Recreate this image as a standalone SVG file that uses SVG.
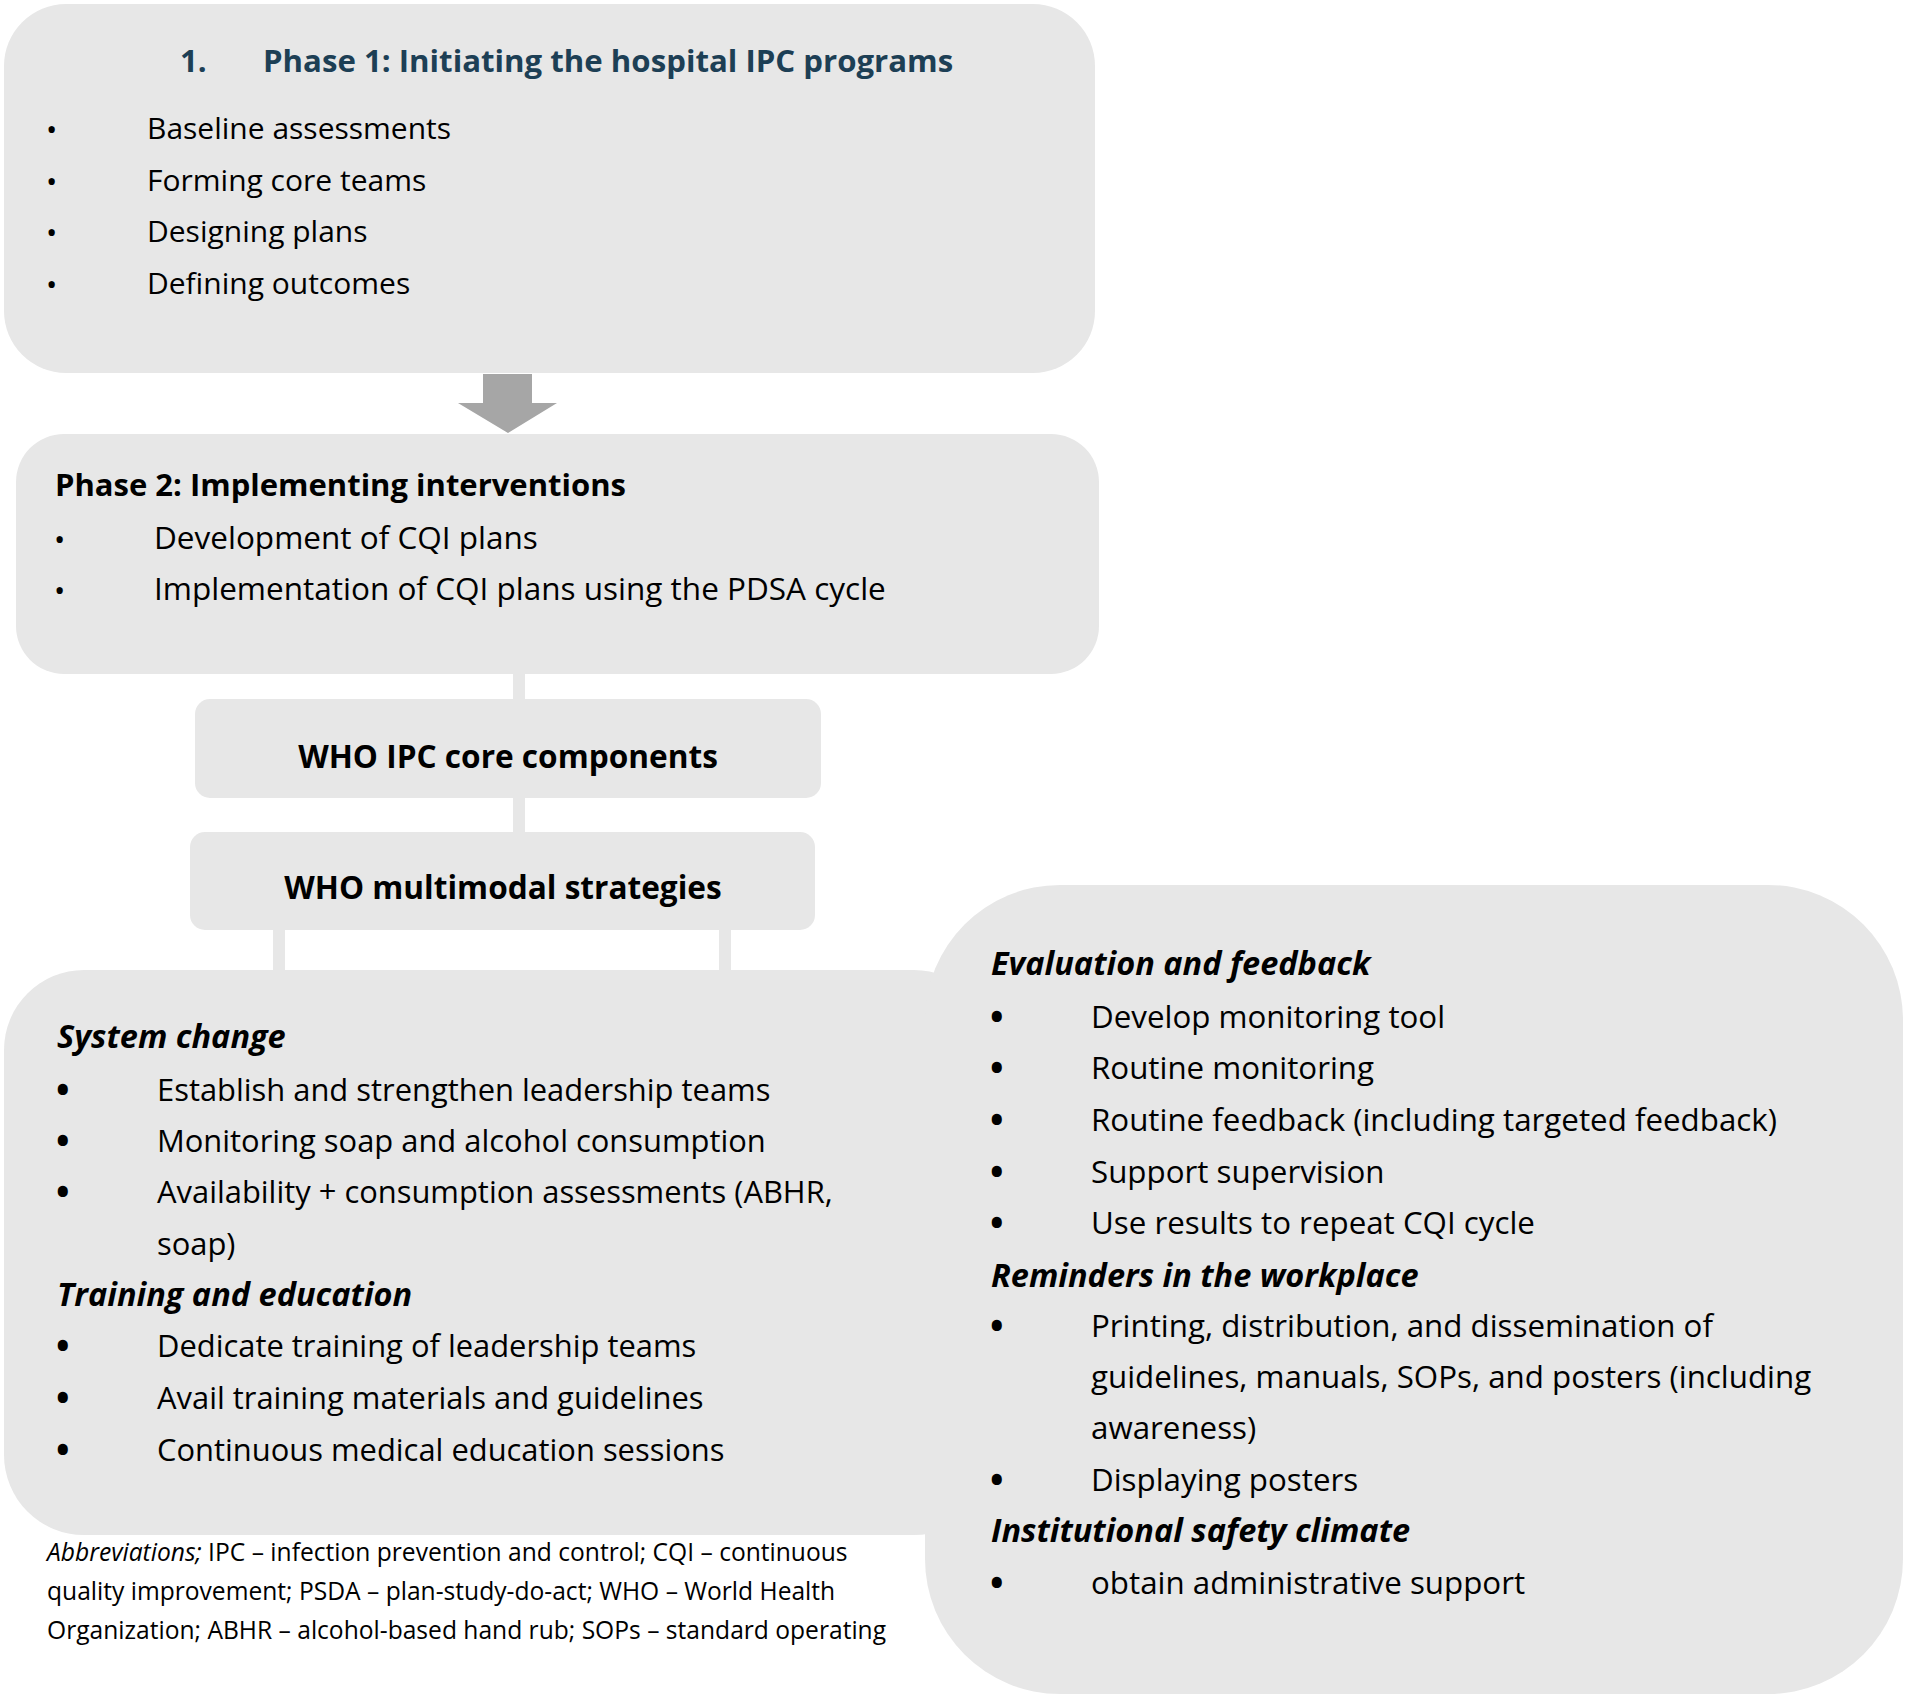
<svg xmlns="http://www.w3.org/2000/svg" width="1907" height="1698" viewBox="0 0 1907 1698">
<style>
  .box { fill: #e7e7e7; }
  .conn { fill: #e7e7e7; }
  .arrow { fill: #a6a6a6; }
  text { font-family: "Open Sans", "Liberation Sans", sans-serif; fill: #000; }
  .t1 { font-size: 30px; }
  .t2 { font-size: 31.5px; }
  .t { font-size: 31.3px; }
  .tl { font-size: 30.9px; }
  .b { font-size: 31px; font-weight: bold; }
  .bw { font-size: 31.6px; font-weight: bold; }
  .bi { font-size: 32.5px; font-weight: bold; font-style: italic; }
  .title { font-size: 31.2px; font-weight: bold; fill: #1d3f55; }
  .bul { font-size: 30px; }
  .bul2 { font-size: 36px; font-weight: bold; }
  .ab { font-size: 24.6px; }
  .abi { font-style: italic; }
</style>
<rect width="1907" height="1698" fill="#ffffff"/>
<g id="connectors">
  <rect class="conn" x="513" y="670" width="12" height="33"/>
  <rect class="conn" x="513" y="794" width="12" height="42"/>
  <rect class="conn" x="273" y="926" width="12" height="48"/>
  <rect class="conn" x="719" y="926" width="12" height="48"/>
  <polygon class="arrow" points="483,374 532,374 532,403 557,403 508,433 458,403 483,403"/>
</g>
<g id="phase1">
  <rect class="box" x="4" y="4" width="1091" height="369" rx="62"/>
  <text class="title" x="180" y="72">1.</text>
  <text class="title" x="263" y="72">Phase 1: Initiating the hospital IPC programs</text>
  <text class="bul" x="46" y="140">•</text><text class="t1" x="147" y="139">Baseline assessments</text>
  <text class="bul" x="46" y="192">•</text><text class="t1" x="147" y="191">Forming core teams</text>
  <text class="bul" x="46" y="243">•</text><text class="t1" x="147" y="242">Designing plans</text>
  <text class="bul" x="46" y="295">•</text><text class="t1" x="147" y="294">Defining outcomes</text>
</g>
<g id="phase2">
  <rect class="box" x="16" y="434" width="1083" height="240" rx="48"/>
  <text class="b" x="55" y="496">Phase 2: Implementing interventions</text>
  <text class="bul" x="54" y="550">•</text><text class="t2" x="154" y="549">Development of CQI plans</text>
  <text class="bul" x="54" y="601">•</text><text class="t2" x="154" y="600">Implementation of CQI plans using the PDSA cycle</text>
</g>
<g id="who-ipc">
  <rect class="box" x="195" y="699" width="626" height="99" rx="15"/>
  <text class="bw" x="508" y="768" text-anchor="middle">WHO IPC core components</text>
</g>
<g id="who-multimodal">
  <rect class="box" x="190" y="832" width="625" height="98" rx="15"/>
  <text class="bw" x="503" y="899" text-anchor="middle">WHO multimodal strategies</text>
</g>
<g id="left-box">
  <rect class="box" x="4" y="970" width="990" height="565" rx="80"/>
  <text class="bi" x="57" y="1048">System change</text>
  <text class="bul2" x="56" y="1103">•</text><text class="tl" x="157" y="1101">Establish and strengthen leadership teams</text>
  <text class="bul2" x="56" y="1154">•</text><text class="tl" x="157" y="1152">Monitoring soap and alcohol consumption</text>
  <text class="bul2" x="56" y="1205">•</text><text class="tl" x="157" y="1203">Availability + consumption assessments (ABHR,</text>
  <text class="tl" x="157" y="1255">soap)</text>
  <text class="bi" x="57" y="1306">Training and education</text>
  <text class="bul2" x="56" y="1359">•</text><text class="tl" x="157" y="1357">Dedicate training of leadership teams</text>
  <text class="bul2" x="56" y="1411">•</text><text class="tl" x="157" y="1409">Avail training materials and guidelines</text>
  <text class="bul2" x="56" y="1463">•</text><text class="tl" x="157" y="1461">Continuous medical education sessions</text>
</g>
<g id="right-box">
  <rect class="box" x="925" y="885" width="978" height="809" rx="135"/>
  <text class="bi" x="991" y="975">Evaluation and feedback</text>
  <text class="bul2" x="990" y="1030">•</text><text class="t" x="1091" y="1028">Develop monitoring tool</text>
  <text class="bul2" x="990" y="1081">•</text><text class="t" x="1091" y="1079">Routine monitoring</text>
  <text class="bul2" x="990" y="1133">•</text><text class="t" x="1091" y="1131">Routine feedback (including targeted feedback)</text>
  <text class="bul2" x="990" y="1185">•</text><text class="t" x="1091" y="1183">Support supervision</text>
  <text class="bul2" x="990" y="1236">•</text><text class="t" x="1091" y="1234">Use results to repeat CQI cycle</text>
  <text class="bi" x="991" y="1287">Reminders in the workplace</text>
  <text class="bul2" x="990" y="1339">•</text><text class="t" x="1091" y="1337">Printing, distribution, and dissemination of</text>
  <text class="t" x="1091" y="1388">guidelines, manuals, SOPs, and posters (including</text>
  <text class="t" x="1091" y="1439">awareness)</text>
  <text class="bul2" x="990" y="1493">•</text><text class="t" x="1091" y="1491">Displaying posters</text>
  <text class="bi" x="991" y="1542">Institutional safety climate</text>
  <text class="bul2" x="990" y="1596">•</text><text class="t" x="1091" y="1594">obtain administrative support</text>
</g>
<g id="abbreviations">
  <text class="ab" x="47" y="1561"><tspan class="abi">Abbreviations;</tspan> IPC – infection prevention and control; CQI – continuous</text>
  <text class="ab" x="47" y="1600">quality improvement; PSDA – plan-study-do-act; WHO – World Health</text>
  <text class="ab" x="47" y="1639">Organization; ABHR – alcohol-based hand rub; SOPs – standard operating</text>
</g>
</svg>
